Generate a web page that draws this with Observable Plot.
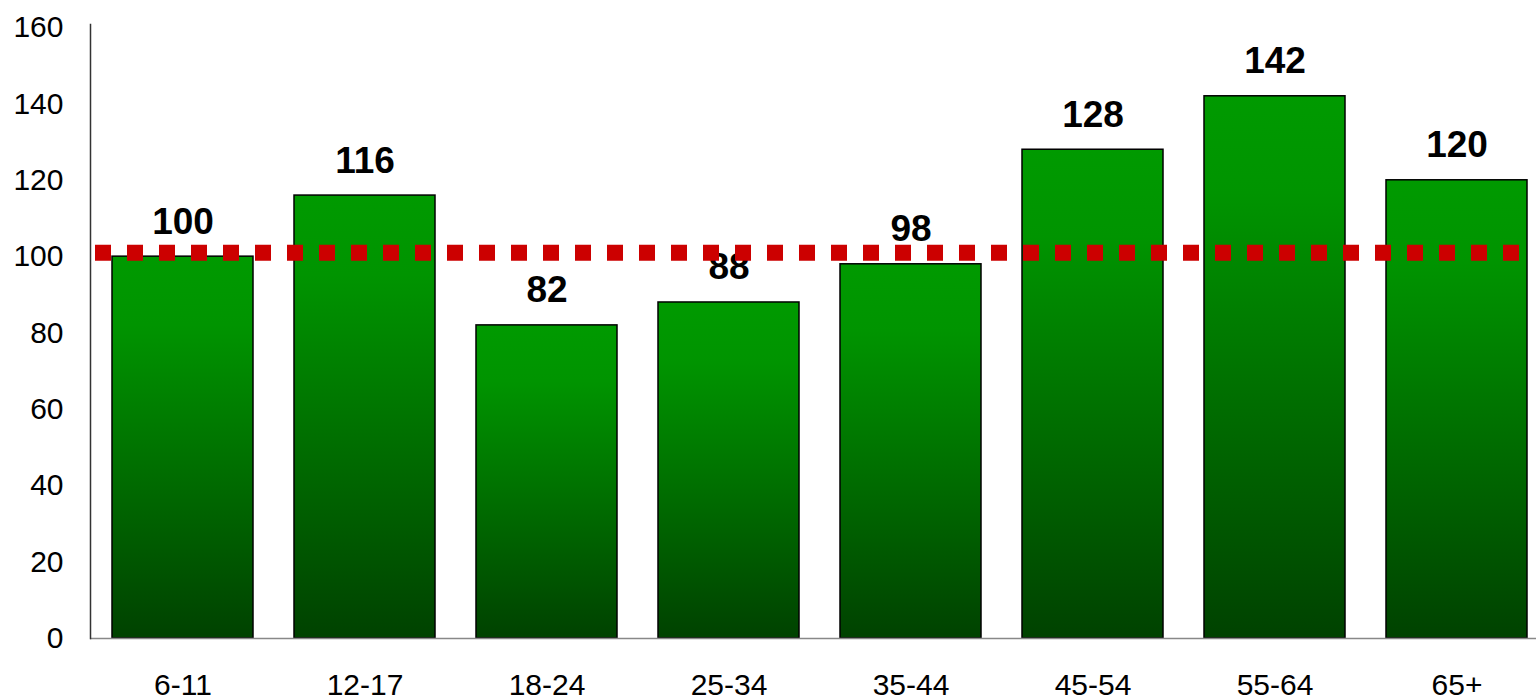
<!DOCTYPE html>
<html><head><meta charset="utf-8">
<script src="https://cdn.jsdelivr.net/npm/d3@7"></script>
<script src="https://cdn.jsdelivr.net/npm/@observablehq/plot@0.6"></script>
<style>html,body{margin:0;padding:0;background:#fff;} svg{display:block}</style>
</head><body><div id="chart"></div>
<script>
const ageGroups = ["6-11","12-17","18-24","25-34","35-44","45-54","55-64","65+"];
const indexValues = [100,116,82,88,98,128,142,120];
const benchmark = [101];
const yTicks = [0,20,40,60,80,100,120,140,160];

const data = ageGroups.map((g,i)=>({group:g, value:indexValues[i]}));

const gradientDefs = () => {
  const defs = d3.create("svg:defs");
  const g = defs.append("linearGradient").attr("id","barGrad")
    .attr("x1",0).attr("y1",0).attr("x2",0).attr("y2",1);
  g.append("stop").attr("offset","0%").attr("stop-color","#009a00");
  g.append("stop").attr("offset","18%").attr("stop-color","#009400");
  g.append("stop").attr("offset","100%").attr("stop-color","#004200");
  return defs.node();
};

const chart = Plot.plot({
  width:1536, height:699,
  marginLeft:90, marginRight:0, marginTop:24, marginBottom:61,
  style:{fontFamily:"'Liberation Sans', Arial, sans-serif", background:"#fff", color:"#000"},
  x:{domain:ageGroups, range:[90,1549], paddingInner:0.227, paddingOuter:0.1135},
  y:{domain:[0,160.8]},
  marks:[
    gradientDefs,
    Plot.barY(data,{x:"group", y:"value", fill:"url(#barGrad)", stroke:"#000", strokeWidth:1.5}),
    Plot.axisX({tickSize:0, tickPadding:35, fontSize:30, label:null}),
    Plot.axisY({ticks:yTicks, tickSize:0, tickPadding:27, fontSize:30, label:null}),
    Plot.ruleY([0], {stroke:"#888", strokeWidth:1.5}),
    Plot.frame({anchor:"left", stroke:"#333", strokeWidth:1.5}),
    Plot.text(data,{x:"group", y:"value", text:d=>String(d.value), dy:-23, lineAnchor:"bottom", fontSize:37, fontWeight:"bold", fill:"#000"}),
    Plot.ruleY(benchmark,{stroke:"#cc0000", strokeWidth:16, strokeDasharray:"16,16", insetLeft:5, insetRight:17})
  ]
});
document.getElementById("chart").appendChild(chart);
</script>
</body></html>
